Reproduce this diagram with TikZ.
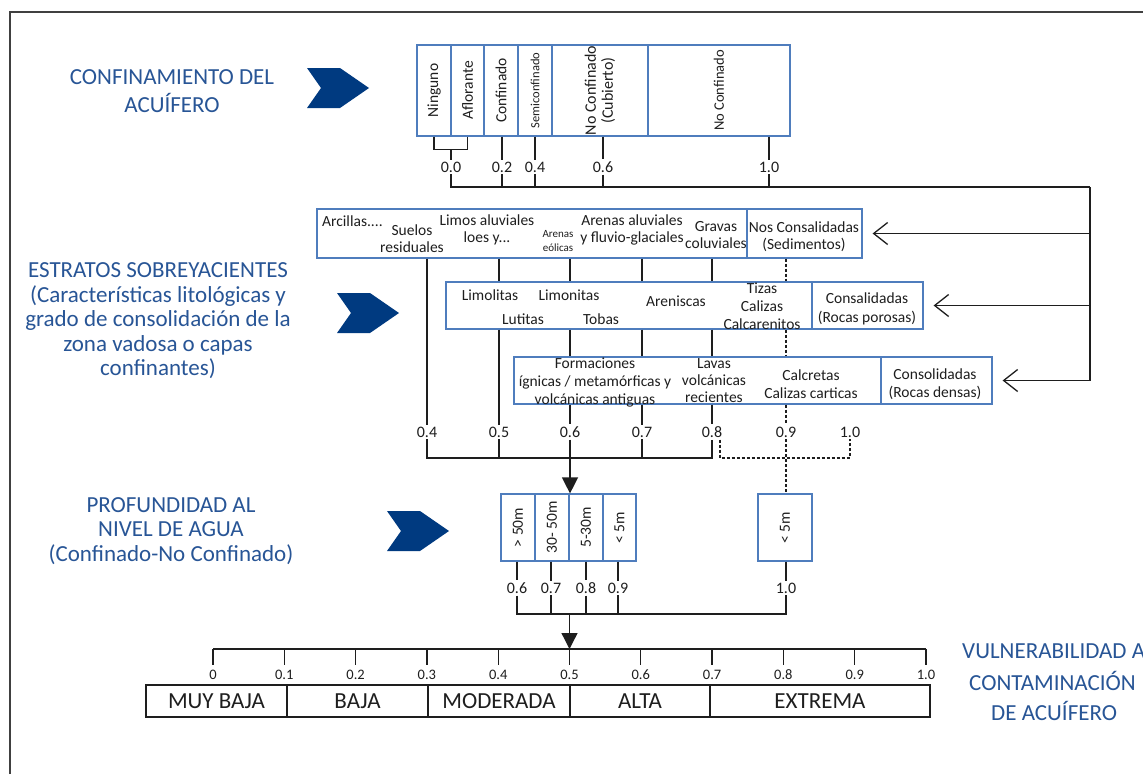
\documentclass[tikz,border=0pt]{standalone}
\usepackage{fontspec}
\setmainfont{Carlito}
\usetikzlibrary{arrows.meta}
\definecolor{tblue}{RGB}{40,85,150}
\definecolor{ablue}{RGB}{0,58,128}
\definecolor{bblue}{RGB}{79,125,189}
\definecolor{ink}{RGB}{30,30,30}
\begin{document}
\begin{tikzpicture}[x=1pt,y=-1pt,
  bx/.style={draw=bblue,line width=1.2pt,inner sep=0pt,fill=white},
  kbx/.style={draw=ink,line width=1.3pt,inner sep=0pt},
  tx/.style={font=\fontsize{15.5}{17.5}\selectfont,text=ink,inner sep=0pt,align=center},
  vt/.style={tx,rotate=90},
  num/.style={font=\fontsize{16}{18}\selectfont,text=ink,inner sep=2pt},
  snum/.style={font=\fontsize{14.5}{16}\selectfont,text=ink,inner sep=1pt},
  ln/.style={draw=ink,line width=1.3pt},
  dl/.style={draw=ink,line width=1.3pt,dash pattern=on 3pt off 2pt},
  ttl/.style={font=\fontsize{23}{24.5}\selectfont,text=tblue,align=center,inner sep=0pt},
  cat/.style={font=\fontsize{23}{25}\selectfont,text=ink},
  barb/.style={-{Straight Barb[length=14pt,width=22pt]},shorten >=10pt},
  tri/.style={-{Triangle[length=16pt,width=16pt]}},
  barrow/.pic={\fill[ablue] (0,0) -- (33,0) -- (62,20) -- (33,40) -- (0,40) -- (14,20) -- cycle;}
]
\useasboundingbox (0,0) rectangle (1143,774);
\fill[white] (0,0) rectangle (1143,774);
\draw[line width=2.5pt,draw=black!75] (10,774) -- (10,12) -- (1143,12);

% ---------- left titles ----------
\node[ttl,font=\fontsize{23}{28}\selectfont] (T1) at (172,91) {CONFINAMIENTO DEL\\ACUÍFERO};
\node[ttl] (T2) at (158,321) {ESTRATOS SOBREYACIENTES\\(Características litológicas y\\grado de consolidación de la\\zona vadosa o capas\\confinantes)};
\node[ttl] (T3) at (171,531) {PROFUNDIDAD AL\\NIVEL DE AGUA\\(Confinado-No Confinado)};
\node[ttl,anchor=west] (T4a) at (962,651) {VULNERABILIDAD A};
\node[ttl,anchor=west] (T4b) at (969,681) {CONTAMINACIÓN};
\node[ttl,anchor=west] (T4c) at (991,711) {DE ACUÍFERO};

\pic at (307,68) {barrow};
\pic at (337,293) {barrow};
\pic at (387,511) {barrow};

% ---------- top: confinamiento ----------
\node[bx,minimum width=34,minimum height=91] (c1) at (434,90.5) {};
\node[bx,minimum width=33,minimum height=91] (c2) at (467.5,90.5) {};
\node[bx,minimum width=34,minimum height=91] (c3) at (501,90.5) {};
\node[bx,minimum width=34,minimum height=91] (c4) at (535,90.5) {};
\node[bx,minimum width=96,minimum height=91] (c5) at (600,90.5) {};
\node[bx,minimum width=142,minimum height=91] (c6) at (719,90.5) {};
\node[vt] (tt1) at (c1) {Ninguno};
\node[vt] (tt2) at (c2) {Aflorante};
\node[vt] (tt3) at (c3) {Confinado};
\node[vt,font=\fontsize{12.5}{14}\selectfont] (tt4) at (c4) {Semiconfinado};
\node[vt,font=\fontsize{16}{17}\selectfont] (tt5) at (c5) {No Confinado\\(Cubierto)};
\node[vt,font=\fontsize{14.5}{16}\selectfont] (tt6) at (c6) {No Confinado};

\node[num] (v00) at (451,167) {0.0};
\node[num] (v02) at (502,167) {0.2};
\node[num] (v04) at (535,167) {0.4};
\node[num] (v06) at (603,167) {0.6};
\node[num] (v10) at (769,167) {1.0};

\draw[ln] (c1.south) -- ++(0,13) -| (c2.south);
\draw[ln] (v00.north |- 0,149) -- (v00.north);
\draw[ln] (v02 |- c3.south) -- (v02.north);
\draw[ln] (v04 |- c4.south) -- (v04.north);
\draw[ln] (v06 |- c5.south) -- (v06.north);
\draw[ln] (v10 |- c6.south) -- (v10.north);

\coordinate (rt) at (1090,187);
\draw[ln] (v00.south) |- (rt);
\foreach \n in {v02,v04,v06,v10} \draw[ln] (\n.south) -- (\n.south |- rt);

% ---------- strata rows ----------
\node[bx,minimum width=430,minimum height=49] (r1a) at (532,233.5) {};
\node[bx,minimum width=115,minimum height=49] (r1b) at (804.5,233.5) {};
\node[bx,minimum width=366,minimum height=47] (r2a) at (629,305.5) {};
\node[bx,minimum width=111,minimum height=47] (r2b) at (867.5,305.5) {};
\node[bx,minimum width=367,minimum height=47] (r3a) at (697.5,380.5) {};
\node[bx,minimum width=111,minimum height=47] (r3b) at (936.5,380.5) {};

\draw[ln] (rt) -- (rt |- r3b.east);
\draw[ln,barb] (rt |- r1b.east) -- (r1b.east);
\draw[ln,barb] (rt |- r2b.east) -- (r2b.east);
\draw[ln,barb] (rt |- r3b.east) -- (r3b.east);

\node[tx,anchor=west] (a1) at (322,221) {Arcillas....};
\node[tx,font=\fontsize{15.5}{17}\selectfont] (a2) at (412,238.5) {Suelos\\residuales};
\node[tx,font=\fontsize{15.5}{17}\selectfont] (a3) at (487,230) {Limos aluviales\\loes y...};
\node[tx,font=\fontsize{11}{14}\selectfont] (a4) at (558,241.5) {Arenas\\eólicas};
\node[tx,font=\fontsize{15.5}{17}\selectfont] (a5) at (632,230) {Arenas aluviales\\y fluvio-glaciales};
\node[tx,font=\fontsize{15.5}{17}\selectfont] (a6) at (716,235) {Gravas\\coluviales};
\node[tx,font=\fontsize{15.5}{17}\selectfont] (a7) at (804,237) {Nos Consalidadas\\(Sedimentos)};

\node[tx] (b1) at (490,295) {Limolitas};
\node[tx] (b2) at (569,295) {Limonitas};
\node[tx] (b3) at (523,319) {Lutitas};
\node[tx] (b4) at (601,319) {Tobas};
\node[tx] (b5) at (676,301) {Areniscas};
\node[tx,font=\fontsize{15.5}{18}\selectfont] (b6) at (762,306.5) {Tizas\\Calizas\\Calcarenitos};
\node[tx,font=\fontsize{15.5}{18.5}\selectfont] (b7) at (867,309) {Consalidadas\\(Rocas porosas)};

\node[tx,font=\fontsize{15.5}{18}\selectfont] (e1) at (595,382.5) {Formaciones\\ígnicas / metamórficas y\\volcánicas antiguas};
\node[tx,font=\fontsize{15.5}{17}\selectfont] (e2) at (714,381) {Lavas\\volcánicas\\recientes};
\node[tx,font=\fontsize{15.5}{18}\selectfont] (e3) at (811,384.5) {Calcretas\\Calizas carticas};
\node[tx,font=\fontsize{15.5}{18}\selectfont] (e4) at (935,384.5) {Consolidadas\\(Rocas densas)};

\node[num] (m04) at (427,432) {0.4};
\node[num] (m05) at (499,432) {0.5};
\node[num] (m06) at (570,432) {0.6};
\node[num] (m07) at (642,432) {0.7};
\node[num] (m08) at (712,432) {0.8};
\node[num] (m09) at (786,432) {0.9};
\node[num] (m10) at (850,432) {1.0};

\draw[ln] (m04 |- r1a.south) -- (m04.north);
\draw[ln] (m05 |- r1a.south) -- (m05 |- r2a.north);
\draw[ln] (m05 |- r2a.south) -- (m05.north);
\foreach \m in {m06,m07,m08}{
  \draw[ln] (\m |- r1a.south) -- (\m |- r2a.north);
  \draw[ln] (\m |- r2a.south) -- (\m |- r3a.north);
  \draw[ln] (\m |- r3a.south) -- (\m.north);
}
\draw[dl] (m09 |- r1b.south) -- (m09 |- r2a.north);
\draw[dl] (m09 |- r2a.south) -- (m09 |- r3a.north);
\draw[dl] (m09 |- r3a.south) -- (m09.north);

\coordinate (bA) at (0,458);
\draw[ln] (m04.south) |- (m08.south |- bA) -- (m08.south);
\foreach \m in {m05,m06,m07} \draw[ln] (\m.south) -- (\m.south |- bA);
\draw[dl] ([xshift=8pt]m08.south) |- (m10.south |- bA) -- (m10.south);

% ---------- depth ----------
\node[bx,minimum width=34,minimum height=67] (d1) at (518,527.5) {};
\node[bx,minimum width=34,minimum height=67] (d2) at (552,527.5) {};
\node[bx,minimum width=34,minimum height=67] (d3) at (586,527.5) {};
\node[bx,minimum width=33,minimum height=67] (d4) at (619.5,527.5) {};
\node[bx,minimum width=54,minimum height=67] (d5) at (785,527.5) {};
\node[vt] (dt1) at (d1) {> 50m};
\node[vt] (dt2) at (d2) {30- 50m};
\node[vt] (dt3) at (d3) {5-30m};
\node[vt] (dt4) at (d4) {< 5m};
\node[vt] (dt5) at (d5) {< 5m};

\draw[dl] (m09.south) -- (m09 |- d5.north);
\draw[ln,tri] (m06.south |- bA) -- (m06 |- d3.north);

\node[num] (w06) at (517,588) {0.6};
\node[num] (w07) at (551,588) {0.7};
\node[num] (w08) at (586,588) {0.8};
\node[num] (w09) at (618,588) {0.9};
\node[num] (w10) at (786,588) {1.0};
\draw[ln] (w06 |- d1.south) -- (w06.north);
\draw[ln] (w07 |- d2.south) -- (w07.north);
\draw[ln] (w08 |- d3.south) -- (w08.north);
\draw[ln] (w09 |- d4.south) -- (w09.north);
\draw[ln] (w10 |- d5.south) -- (w10.north);

\coordinate (bB) at (0,614);
\draw[ln] (w06.south) |- (w10.south |- bB) -- (w10.south);
\foreach \w in {w07,w08,w09} \draw[ln] (\w.south) -- (\w.south |- bB);

% ---------- scale ----------
\coordinate (scl) at (0,649);
\foreach \i/\t in {0/0,1/0.1,2/0.2,3/0.3,4/0.4,5/0.5,6/0.6,7/0.7,8/0.8,9/0.9,10/1.0}
  \node[snum] (s\i) at ({213+71.3*\i},675) {\t};
\draw[ln] (s0 |- scl) -- (s10 |- scl);
\foreach \i in {0,...,10} \draw[ln] (s\i |- scl) -- ++(0,16);
\draw[ln,tri] (s5 |- bB) -- (s5 |- scl);

\node[kbx,cat,minimum width=141,minimum height=32] (k1) at (216.5,701) {MUY BAJA};
\node[kbx,cat,minimum width=141,minimum height=32] (k2) at (357.5,701) {BAJA};
\node[kbx,cat,minimum width=142,minimum height=32] (k3) at (499,701) {MODERADA};
\node[kbx,cat,minimum width=140,minimum height=32] (k4) at (640,701) {ALTA};
\node[kbx,cat,minimum width=220,minimum height=32] (k5) at (820,701) {EXTREMA};
\end{tikzpicture}
\end{document}
